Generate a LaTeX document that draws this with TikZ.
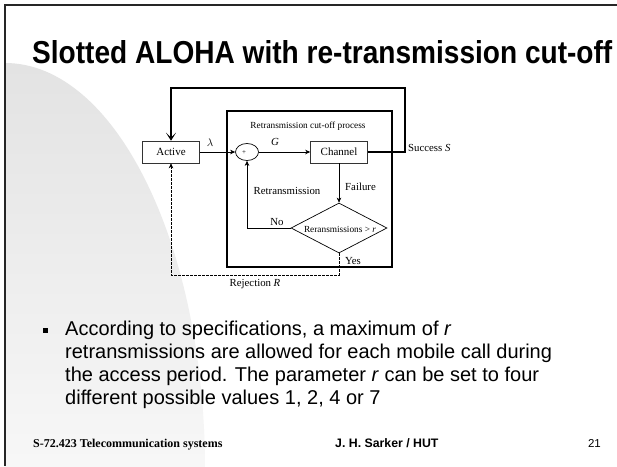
\documentclass[tikz,border=0pt]{standalone}
\usepackage{fontspec}
\setmainfont{Liberation Serif}
\newfontfamily\arialf{Liberation Sans}
\usepackage{graphicx}
\usetikzlibrary{arrows.meta,shapes.geometric}

\begin{document}
\begin{tikzpicture}[x=1pt,y=-1pt,
  blockbox/.style={draw=black!80, line width=0.6pt, minimum width=57pt, minimum height=22pt, inner sep=0pt, font=\fontsize{11}{12}\selectfont},
  lbl/.style={inner sep=0pt, font=\fontsize{10.8}{12}\selectfont},
  smalllbl/.style={inner sep=0pt, font=\fontsize{9.3}{10}\selectfont},
  thinline/.style={line width=0.7pt},
  thickline/.style={line width=2pt},
  arr/.style={-{Stealth[length=5pt,width=4.5pt,inset=1.5pt]}},
  bigarr/.style={-{Stealth[length=8pt,width=10pt,inset=5pt]}},
  bullettext/.style={anchor=base west, inner sep=0pt, font=\arialf\fontsize{20}{23}\selectfont},
]
\useasboundingbox (0,0) rectangle (617,466);
\fill[white] (0,0) rectangle (617,466);
% background arc
\shade[top color=black!11, bottom color=black!3]
  (5,63) arc[start angle=-90, end angle=0, x radius=200, y radius=407] -- (5,470) -- cycle;
% slide frame
\draw[line width=1.6pt, black!85, line join=miter] (5,466) -- (5,5) -- (617,5);

% title
\node[anchor=base west, inner sep=0pt] (title) at (32,63)
  {\resizebox{580pt}{23pt}{\arialf\bfseries Slotted ALOHA with re-transmission cut-off}};

% diagram
\node[draw, line width=2pt, minimum width=165pt, minimum height=156pt, inner sep=0pt] (proc) at (309.5,189) {};
\node[smalllbl] (proctitle) at (308,126) {Retransmission cut-off process};
\node[blockbox] (active) at (171,152) {Active};
\node[draw, ellipse, thinline, minimum width=23pt, minimum height=17pt, inner sep=0pt] (sum) at (247,152) {};
\node[inner sep=0pt, font=\fontsize{7}{8}\selectfont] (plus) at (244,153) {+};
\node[blockbox] (channel) at (339,152) {Channel};
\node[draw, diamond, thinline, minimum width=96pt, minimum height=50pt, inner sep=0pt] (dec) at (339,228) {};
\node[smalllbl] (dectext) at (340,229) {Reransmissions > \textit{r}};

\coordinate (topright) at (405,88);
\coordinate (rej) at (339,275);

\draw[thinline, arr] (active.east) -- (sum.west);
\draw[thinline, arr] (sum.east) -- (channel.west);
\draw[thickline, bigarr, line join=miter] (channel.east) -| (topright) -| (active.north);
\draw[thinline, arr] (channel.south) -- (dec.north);
\draw[thinline, arr] (dec.west) -| (sum.south);
\draw[thinline, dashed, dash pattern=on 2.5pt off 1.5pt, arr] (dec.south) -- (rej) -| (active.south);

\node[lbl] (lam) at (210,143) {$\lambda$};
\node[lbl] (glbl) at (275,142) {\textit{G}};
\node[lbl, anchor=west] (succ) at (408,148) {Success \textit{S}};
\node[lbl, anchor=west] (fail) at (345,187) {Failure};
\node[lbl] (retr) at (287,191) {Retransmission};
\node[lbl] (nolbl) at (277,222) {No};
\node[lbl, anchor=west] (yes) at (345,261) {Yes};
\node[lbl] (rejlbl) at (255,284) {Rejection \textit{R}};

% bullet text
\fill (43,328) rectangle (48,333);
\node[bullettext] (l1) at (65,335) {According to specifications, a maximum of \textit{r}};
\node[bullettext] (l2) at (65,358) {retransmissions are allowed for each mobile call during};
\node[bullettext] (l3) at (65,381) {the access period. The parameter \textit{r} can be set to four};
\node[bullettext] (l4) at (65,404) {different possible values 1, 2, 4 or 7};

% footer
\node[anchor=base west, inner sep=0pt, font=\fontsize{12}{14}\selectfont\bfseries] (f1) at (33,447) {S-72.423 Telecommunication systems};
\node[anchor=base west, inner sep=0pt, font=\arialf\bfseries\fontsize{12.3}{14}\selectfont] (f2) at (335,447) {J. H. Sarker / HUT};
\node[anchor=base east, inner sep=0pt, font=\arialf\fontsize{11.5}{14}\selectfont] (f3) at (601,447) {21};
\end{tikzpicture}
\end{document}
